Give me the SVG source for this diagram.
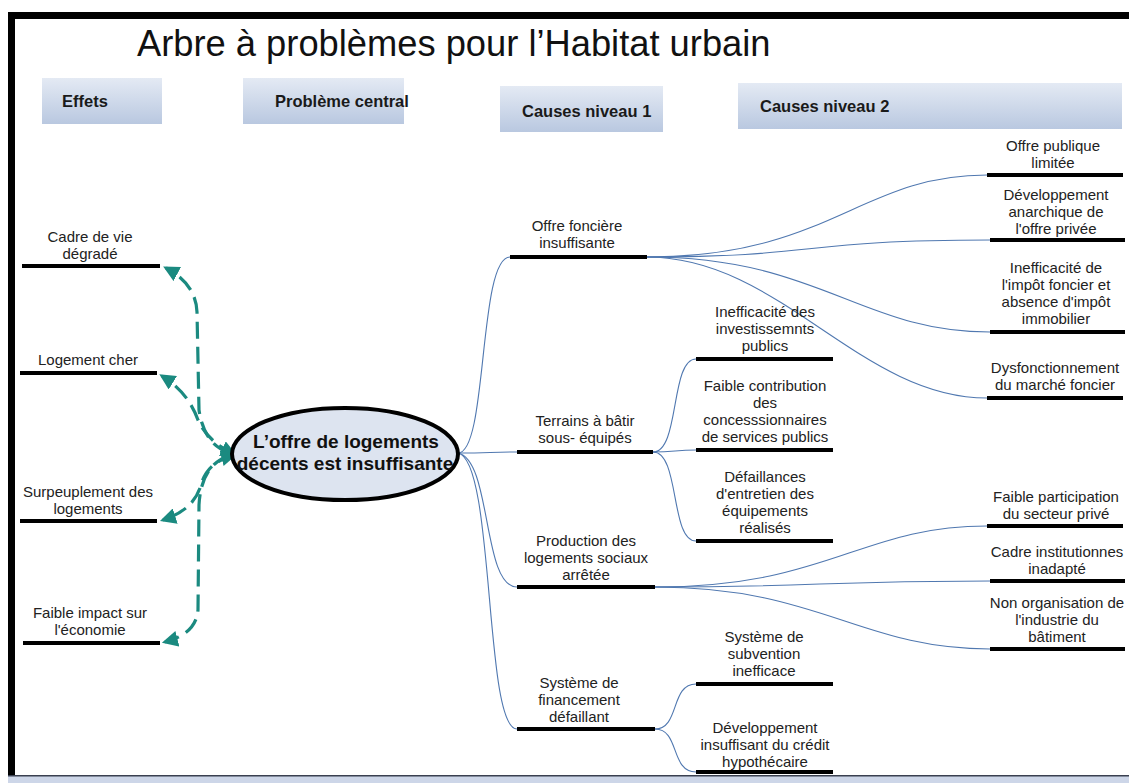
<svg xmlns="http://www.w3.org/2000/svg" width="1129" height="783" viewBox="0 0 1129 783">
  <defs>
    <linearGradient id="hdr" x1="0" y1="0" x2="0" y2="1">
      <stop offset="0" stop-color="#e4eaf4"/>
      <stop offset="1" stop-color="#b9c8e0"/>
    </linearGradient>
    <marker id="tealHead" viewBox="0 0 10 10" refX="8" refY="5" markerWidth="5" markerHeight="5" orient="auto-start-reverse" markerUnits="strokeWidth">
      <path d="M0,0 L10,5 L0,10 z" fill="#1b8a80"/>
    </marker>
    <style>
      .hdr { fill: url(#hdr); }
      .hdrText { font-family: "Liberation Sans", Arial, sans-serif; font-size: 16.5px; font-weight: bold; fill: #1a1a1a; }
      .lbl { font-family: "Liberation Sans", Arial, sans-serif; font-size: 15px; fill: #222; text-anchor: middle; }
      .bar { stroke: #000; stroke-width: 4; }
      .link { fill: none; stroke: #5078b0; stroke-width: 1.1; }
      .effect { fill: none; stroke: #1b8a80; stroke-width: 3.2; stroke-dasharray: 17 8; }
    </style>
  </defs>

  <rect width="1129" height="783" fill="#fff"/>

  <!-- frame -->
  <rect x="8" y="12" width="1121" height="7" fill="#000"/>
  <rect x="8" y="12" width="7" height="766" fill="#000"/>
  <rect x="8" y="775" width="1121" height="8" fill="#cdd6e8"/>
  <rect x="8" y="775" width="1121" height="1.5" fill="#3a4050"/>

  <!-- title -->
  <text x="137" y="56" font-family="Liberation Sans, Arial, sans-serif" font-size="36.3" fill="#111">Arbre à problèmes pour l’Habitat urbain</text>

  <!-- column headers -->
  <g id="header-effets">
    <rect class="hdr" x="42" y="78" width="120" height="46"/>
    <text class="hdrText" x="62" y="107">Effets</text>
  </g>
  <g id="header-probleme">
    <rect class="hdr" x="243" y="78" width="161" height="46"/>
    <text class="hdrText" x="275" y="107" font-size="16">Problème central</text>
  </g>
  <g id="header-causes1">
    <rect class="hdr" x="500" y="86" width="163" height="46"/>
    <text class="hdrText" x="522" y="117">Causes niveau 1</text>
  </g>
  <g id="header-causes2">
    <rect class="hdr" x="738" y="83" width="384" height="46"/>
    <text class="hdrText" x="760" y="112">Causes niveau 2</text>
  </g>

  <!-- connectors -->
  <g id="connectors">
    <!-- effects (dashed teal), drawn from the central problem out to each effect -->
    <path class="effect" marker-end="url(#tealHead)" d="M228 452 Q204 444 199 410 L197 312 Q196 284 166 268"/>
    <path class="effect" marker-start="url(#tealHead)" marker-end="url(#tealHead)" d="M234 454 Q208 442 198 420 Q188 392 162 376"/>
    <path class="effect" marker-start="url(#tealHead)" marker-end="url(#tealHead)" d="M234 455 Q207 462 201 485 Q194 510 163 520"/>
    <path class="effect" marker-end="url(#tealHead)" d="M228 456 Q201 466 199 505 L198 610 Q196 634 165 642"/>

    <!-- central problem to level-1 causes -->
    <path class="link" d="M458 453 C488 453 478 257 510 257"/>
    <path class="link" d="M458 453 C490 453 490 452 517 452"/>
    <path class="link" d="M458 453 C492 460 482 587 517 587"/>
    <path class="link" d="M458 453 C495 460 484 729 517 729"/>

    <!-- Offre foncière -> level 2 -->
    <path class="link" d="M647 257 C830 257 860 175 987 175"/>
    <path class="link" d="M647 257 C820 257 800 240 990 240"/>
    <path class="link" d="M647 257 C820 257 860 332 990 332"/>
    <path class="link" d="M647 257 C780 257 860 398 987 398"/>

    <!-- Terrains -> level 2 -->
    <path class="link" d="M653 452 C680 452 670 359 696 359"/>
    <path class="link" d="M653 452 C675 452 675 450 696 450"/>
    <path class="link" d="M653 452 C680 452 670 541 696 541"/>

    <!-- Production -> level 2 -->
    <path class="link" d="M655 587 C830 587 860 526 987 526"/>
    <path class="link" d="M655 587 C820 587 820 581 990 581"/>
    <path class="link" d="M655 587 C820 587 860 649 990 649"/>

    <!-- Système de financement -> level 2 -->
    <path class="link" d="M655 729 C680 729 670 684 696 684"/>
    <path class="link" d="M655 729 C680 729 670 772 696 772"/>
  </g>

  <!-- central problem -->
  <g id="central-problem">
    <ellipse cx="345" cy="454" rx="113" ry="46" fill="#dde4f0" stroke="#000" stroke-width="4"/>
    <text x="346" y="448" font-family="Liberation Sans, Arial, sans-serif" font-size="19" font-weight="bold" fill="#111" text-anchor="middle">L’offre de logements</text>
    <text x="345" y="470" font-family="Liberation Sans, Arial, sans-serif" font-size="19" font-weight="bold" fill="#111" text-anchor="middle">décents est insuffisante</text>
  </g>

  <!-- effects -->
  <g id="effet-cadre-de-vie">
    <text class="lbl" x="90" y="242">Cadre de vie</text>
    <text class="lbl" x="90" y="259">dégradé</text>
    <line class="bar" x1="22" y1="266" x2="160" y2="266"/>
  </g>
  <g id="effet-logement-cher">
    <text class="lbl" x="88" y="365">Logement cher</text>
    <line class="bar" x1="20" y1="373" x2="157" y2="373"/>
  </g>
  <g id="effet-surpeuplement">
    <text class="lbl" x="88" y="497">Surpeuplement des</text>
    <text class="lbl" x="88" y="514">logements</text>
    <line class="bar" x1="20" y1="521" x2="157" y2="521"/>
  </g>
  <g id="effet-economie">
    <text class="lbl" x="90" y="618">Faible impact sur</text>
    <text class="lbl" x="90" y="635">l'économie</text>
    <line class="bar" x1="23" y1="643" x2="160" y2="643"/>
  </g>

  <!-- level-1 causes -->
  <g id="cause-offre-fonciere">
    <text class="lbl" x="577" y="231">Offre foncière</text>
    <text class="lbl" x="577" y="248">insuffisante</text>
    <line class="bar" x1="510" y1="257" x2="647" y2="257"/>
  </g>
  <g id="cause-terrains">
    <text class="lbl" x="585" y="426">Terrains à bâtir</text>
    <text class="lbl" x="585" y="443">sous- équipés</text>
    <line class="bar" x1="517" y1="452" x2="653" y2="452"/>
  </g>
  <g id="cause-production">
    <text class="lbl" x="586" y="546">Production des</text>
    <text class="lbl" x="586" y="563">logements sociaux</text>
    <text class="lbl" x="586" y="580">arrêtée</text>
    <line class="bar" x1="517" y1="587" x2="655" y2="587"/>
  </g>
  <g id="cause-financement">
    <text class="lbl" x="579" y="688">Système de</text>
    <text class="lbl" x="579" y="705">financement</text>
    <text class="lbl" x="579" y="722">défaillant</text>
    <line class="bar" x1="517" y1="729" x2="655" y2="729"/>
  </g>

  <!-- level-2 causes: Offre foncière -->
  <g id="c2-offre-publique">
    <text class="lbl" x="1053" y="151">Offre publique</text>
    <text class="lbl" x="1053" y="168">limitée</text>
    <line class="bar" x1="987" y1="175" x2="1123" y2="175"/>
  </g>
  <g id="c2-offre-privee">
    <text class="lbl" x="1056" y="200">Développement</text>
    <text class="lbl" x="1056" y="217">anarchique de</text>
    <text class="lbl" x="1056" y="234">l'offre privée</text>
    <line class="bar" x1="990" y1="240" x2="1125" y2="240"/>
  </g>
  <g id="c2-impot">
    <text class="lbl" x="1056" y="273">Inefficacité de</text>
    <text class="lbl" x="1056" y="290">l'impôt foncier et</text>
    <text class="lbl" x="1056" y="307">absence d'impôt</text>
    <text class="lbl" x="1056" y="324">immobilier</text>
    <line class="bar" x1="990" y1="332" x2="1125" y2="332"/>
  </g>
  <g id="c2-marche-foncier">
    <text class="lbl" x="1055" y="373">Dysfonctionnement</text>
    <text class="lbl" x="1055" y="390">du marché foncier</text>
    <line class="bar" x1="987" y1="398" x2="1123" y2="398"/>
  </g>

  <!-- level-2 causes: Terrains -->
  <g id="c2-investissements">
    <text class="lbl" x="765" y="317">Inefficacité des</text>
    <text class="lbl" x="765" y="334">investissemnts</text>
    <text class="lbl" x="765" y="351">publics</text>
    <line class="bar" x1="696" y1="359" x2="833" y2="359"/>
  </g>
  <g id="c2-concessionnaires">
    <text class="lbl" x="765" y="391">Faible contribution</text>
    <text class="lbl" x="765" y="408">des</text>
    <text class="lbl" x="765" y="425">concesssionnaires</text>
    <text class="lbl" x="765" y="442">de services publics</text>
    <line class="bar" x1="696" y1="450" x2="833" y2="450"/>
  </g>
  <g id="c2-entretien">
    <text class="lbl" x="765" y="482">Défaillances</text>
    <text class="lbl" x="765" y="499">d'entretien des</text>
    <text class="lbl" x="765" y="516">équipements</text>
    <text class="lbl" x="765" y="533">réalisés</text>
    <line class="bar" x1="696" y1="541" x2="833" y2="541"/>
  </g>

  <!-- level-2 causes: Production -->
  <g id="c2-secteur-prive">
    <text class="lbl" x="1056" y="502">Faible participation</text>
    <text class="lbl" x="1056" y="519">du secteur privé</text>
    <line class="bar" x1="987" y1="526" x2="1123" y2="526"/>
  </g>
  <g id="c2-cadre-institutionnel">
    <text class="lbl" x="1057" y="557">Cadre institutionnes</text>
    <text class="lbl" x="1057" y="574">inadapté</text>
    <line class="bar" x1="990" y1="581" x2="1125" y2="581"/>
  </g>
  <g id="c2-industrie">
    <text class="lbl" x="1057" y="608">Non organisation de</text>
    <text class="lbl" x="1057" y="625">l'industrie du</text>
    <text class="lbl" x="1057" y="642">bâtiment</text>
    <line class="bar" x1="990" y1="649" x2="1125" y2="649"/>
  </g>

  <!-- level-2 causes: Financement -->
  <g id="c2-subvention">
    <text class="lbl" x="764" y="642">Système de</text>
    <text class="lbl" x="764" y="659">subvention</text>
    <text class="lbl" x="764" y="676">inefficace</text>
    <line class="bar" x1="696" y1="684" x2="833" y2="684"/>
  </g>
  <g id="c2-credit">
    <text class="lbl" x="765" y="733">Développement</text>
    <text class="lbl" x="765" y="750">insuffisant du crédit</text>
    <text class="lbl" x="765" y="767">hypothécaire</text>
    <line class="bar" x1="696" y1="772" x2="833" y2="772"/>
  </g>
</svg>
